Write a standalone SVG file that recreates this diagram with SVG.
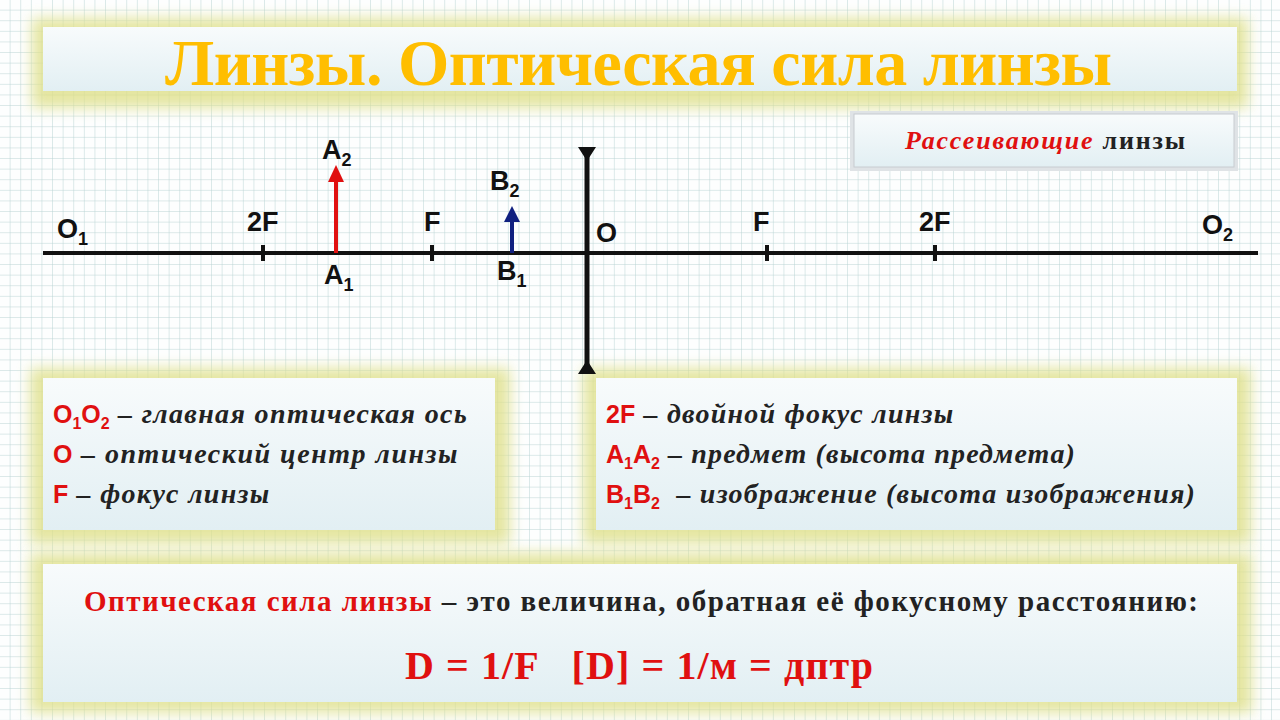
<svg xmlns="http://www.w3.org/2000/svg" width="1280" height="720" viewBox="0 0 1280 720">
<defs>
<pattern id="grid" width="10.6" height="10.6" patternUnits="userSpaceOnUse">
<path d="M10.6 0V10.6H0" fill="none" stroke="#b9d4d4" stroke-width="1"/>
</pattern>
<linearGradient id="box" x1="0" y1="0" x2="0" y2="1"><stop offset="0" stop-color="#f8fbfc"/><stop offset="1" stop-color="#e2eff3"/></linearGradient>
<filter id="glow" x="-10%" y="-30%" width="120%" height="160%"><feGaussianBlur stdDeviation="7"/></filter>
</defs>
<style>
.sans{font-family:"Liberation Sans",Arial,sans-serif;font-weight:bold}
.ser{font-family:"Liberation Serif","Times New Roman",serif;font-weight:bold}
.lbl{font-size:27px;fill:#111}
.it{font-style:italic;font-size:28px;fill:#222}
.red{fill:#e01010}
.glow{fill:#dfe08a;opacity:.8}
</style>
<rect width="1280" height="720" fill="#fdfefe"/>
<rect width="1280" height="720" fill="url(#grid)"/>
<g id="title">
<rect class="glow" x="32" y="18" width="1216" height="90" filter="url(#glow)"/>
<rect x="43" y="27" width="1194" height="64" fill="url(#box)"/>
<text class="ser" x="165" y="85" font-size="66" fill="#ffbe00" textLength="947" lengthAdjust="spacing">Линзы. Оптическая сила линзы</text>
</g>
<g id="lenstype">
<rect x="850" y="111" width="388" height="60" fill="#dfe3e6"/>
<rect x="854" y="114" width="380" height="53" fill="url(#box)" stroke="#c8ccd0"/>
<text class="ser" x="905" y="149" font-size="26" textLength="280" lengthAdjust="spacing"><tspan fill="#e01010" font-style="italic">Рассеивающие</tspan><tspan fill="#222"> линзы</tspan></text>
</g>
<g id="axis">
<line x1="43" y1="253" x2="1258" y2="253" stroke="#111" stroke-width="4"/>
<g stroke="#111" stroke-width="4"><line x1="263" y1="245" x2="263" y2="261"/><line x1="432" y1="245" x2="432" y2="261"/><line x1="767" y1="245" x2="767" y2="261"/><line x1="935" y1="245" x2="935" y2="261"/></g>
<text class="sans lbl" x="57" y="238">O<tspan font-size="18" dy="7">1</tspan></text>
<text class="sans lbl" x="247" y="231">2F</text>
<text class="sans lbl" x="424" y="231">F</text>
<text class="sans lbl" x="596" y="242">O</text>
<text class="sans lbl" x="753" y="231">F</text>
<text class="sans lbl" x="919" y="231">2F</text>
<text class="sans lbl" x="1202" y="234">O<tspan font-size="18" dy="7">2</tspan></text>
</g>
<g id="objA">
<line x1="336" y1="253" x2="336" y2="180" stroke="#e01010" stroke-width="4"/>
<path d="M328 182L336 165L344 182Z" fill="#e01010"/>
<text class="sans lbl" x="322" y="159">A<tspan font-size="18" dy="7">2</tspan></text>
<text class="sans lbl" x="324" y="284">A<tspan font-size="18" dy="7">1</tspan></text>
</g>
<g id="imgB">
<line x1="512" y1="253" x2="512" y2="218" stroke="#102080" stroke-width="4"/>
<path d="M504 222L512 206L520 222Z" fill="#102080"/>
<text class="sans lbl" x="490" y="190">B<tspan font-size="18" dy="7">2</tspan></text>
<text class="sans lbl" x="497" y="280">B<tspan font-size="18" dy="7">1</tspan></text>
</g>
<g id="defs1">
<rect class="glow" x="30" y="368" width="480" height="176" filter="url(#glow)"/>
<rect x="43" y="378" width="452" height="152" fill="url(#box)"/>
<text x="53" y="423"><tspan class="sans red" font-size="25">O<tspan font-size="16" dy="6">1</tspan><tspan dy="-6">O</tspan><tspan font-size="16" dy="6">2</tspan></tspan><tspan class="ser it" dy="-6" textLength="357" lengthAdjust="spacing"> – главная оптическая ось</tspan></text>
<text x="53" y="463"><tspan class="sans red" font-size="25">O</tspan><tspan class="ser it" textLength="385" lengthAdjust="spacing"> – оптический центр линзы</tspan></text>
<text x="53" y="503"><tspan class="sans red" font-size="25">F</tspan><tspan class="ser it" textLength="201" lengthAdjust="spacing"> – фокус линзы</tspan></text>
</g>
<g id="defs2">
<rect class="glow" x="583" y="368" width="668" height="176" filter="url(#glow)"/>
<rect x="596" y="378" width="641" height="152" fill="url(#box)"/>
<text x="606" y="423"><tspan class="sans red" font-size="25">2F</tspan><tspan class="ser it" textLength="318" lengthAdjust="spacing"> – двойной фокус линзы</tspan></text>
<text x="606" y="463"><tspan class="sans red" font-size="25">A<tspan font-size="16" dy="6">1</tspan><tspan dy="-6">A</tspan><tspan font-size="16" dy="6">2</tspan></tspan><tspan class="ser it" dy="-6" textLength="415" lengthAdjust="spacing"> – предмет (высота предмета)</tspan></text>
<text x="606" y="503"><tspan class="sans red" font-size="25">B<tspan font-size="16" dy="6">1</tspan><tspan dy="-6">B</tspan><tspan font-size="16" dy="6">2</tspan></tspan><tspan class="ser it" dy="-6" textLength="535" lengthAdjust="spacing" xml:space="preserve">  – изображение (высота изображения)</tspan></text>
</g>
<g id="power">
<rect class="glow" x="30" y="553" width="1222" height="160" filter="url(#glow)"/>
<rect x="43" y="564" width="1194" height="138" fill="url(#box)"/>
<text class="ser" x="84" y="611" font-size="29" textLength="1114" lengthAdjust="spacing"><tspan fill="#e01010">Оптическая сила линзы</tspan><tspan fill="#222"> – это величина, обратная её фокусному расстоянию:</tspan></text>
<text class="ser red" x="405" y="679" font-size="40" textLength="468" lengthAdjust="spacing" xml:space="preserve">D = 1/F   [D] = 1/м = дптр</text>
</g>
<g id="lens">
<line x1="587" y1="155" x2="587" y2="366" stroke="#111" stroke-width="5"/>
<path d="M578 147H596L587 161Z M578 374H596L587 360Z" fill="#111"/>
</g>
</svg>
